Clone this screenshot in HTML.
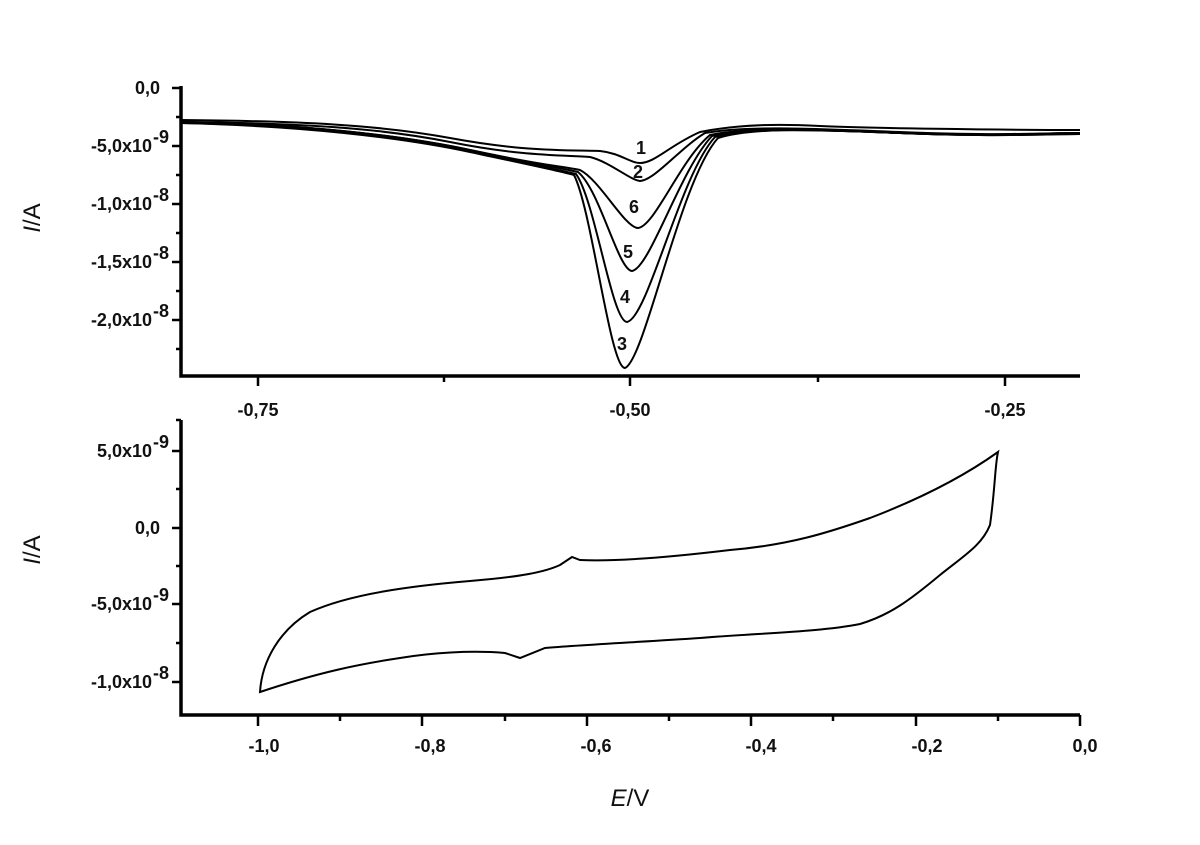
<!DOCTYPE html>
<html><head><style>
body{margin:0;background:#fff;}
svg text{font-family:"Liberation Sans",sans-serif;font-weight:bold;font-size:18px;fill:#111;}
</style></head><body>
<svg width="1200" height="840" viewBox="0 0 1200 840" xmlns="http://www.w3.org/2000/svg">
<g stroke="#000" fill="none">
<path d="M181,86 V376 H1080" stroke-width="3.5"/>
<g stroke-width="2.5">
<path d="M172,88H181M172,146H181M172,204H181M172,262H181M172,320H181"/>
<path d="M176,117H181M176,175H181M176,233H181M176,291H181M176,349H181"/>
<path d="M258,376V386M630,376V386M1005,376V386M444,376V382M818,376V382"/>
</g>
<path d="M181,420 V715 H1080" stroke-width="3.5"/>
<g stroke-width="2.5">
<path d="M172,451H181M172,528H181M172,604H181M172,682H181"/>
<path d="M176,489H181M176,566H181M176,643H181M176,420H181"/>
<path d="M258,715V726M422,715V726M587,715V726M751,715V726M916,715V726M1080,715V726"/>
<path d="M340,715V721M505,715V721M669,715V721M833,715V721M998,715V721"/>
</g>
<g stroke-width="2">
<path d="M181,120 C300,121 380,125 450,138 S560,150 600,151 C620,153 630,163 640,163 C655,163 670,145 700,132 C740,124 780,124 820,126 S1000,130 1080,130"/>
<path d="M181,122 C300,123 380,128 450,142 S560,155 590,157 C610,162 630,180 640,181 C655,180 680,148 705,133 C745,126 800,128 900,132 S1040,133 1080,133"/>
<path d="M181,122 C300,124 400,135 470,150 S560,166 580,170 C600,180 625,228 638,228 C655,226 680,160 710,135 C750,127 800,129 900,133 S1040,133 1080,133"/>
<path d="M181,122 C300,124 400,135 470,150 S560,168 578,172 C600,190 618,270 632,271 C650,268 680,170 712,136 C750,127 800,129 900,133 S1040,133 1080,133"/>
<path d="M181,123 C300,125 400,136 470,151 S560,170 576,174 C595,200 612,322 627,322 C648,318 680,175 715,137 C750,128 800,129 900,133 S1040,134 1080,134"/>
<path d="M181,123 C300,126 400,137 470,152 S560,171 574,175 C592,210 610,368 625,368 C645,360 680,180 718,138 C750,128 800,129 900,133 S1040,134 1080,134"/>
</g>
<path stroke-width="2" d="M260,692 C262,660 280,630 310,612 C350,594 410,586 470,581 C520,577 545,572 560,565 L572,557 L580,560 C620,562 680,556 730,550 C790,545 830,532 870,518 C930,495 970,472 998,452 C995,465 995,490 990,525 C982,545 965,555 940,575 C910,600 890,615 860,624 C820,632 760,633 700,638 C640,642 580,645 545,648 L520,658 L505,653 C470,650 430,653 400,658 C360,664 320,672 260,692 Z"/>
</g>
<g text-anchor="end">
<text x="160" y="94">0,0</text>
<text x="152" y="152">-5,0x10</text><text x="152" y="210">-1,0x10</text><text x="152" y="268">-1,5x10</text><text x="152" y="326">-2,0x10</text>
</g>
<g style="font-size:11px"><text x="153" y="143">-9</text><text x="153" y="201">-8</text><text x="153" y="259">-8</text><text x="153" y="317">-8</text></g>
<g text-anchor="middle">
<text x="258" y="416">-0,75</text><text x="630" y="416">-0,50</text><text x="1005" y="416">-0,25</text>
</g>
<g style="font-size:11px" text-anchor="middle">
<text x="641" y="154">1</text><text x="638" y="178">2</text><text x="634" y="213">6</text><text x="628" y="258">5</text><text x="625" y="303">4</text><text x="622" y="350">3</text>
</g>
<g text-anchor="end">
<text x="152" y="457">5,0x10</text><text x="160" y="534">0,0</text><text x="152" y="610">-5,0x10</text><text x="152" y="688">-1,0x10</text>
</g>
<g style="font-size:11px"><text x="153" y="448">-9</text><text x="153" y="601">-9</text><text x="153" y="679">-8</text></g>
<g text-anchor="middle">
<text x="264" y="752">-1,0</text><text x="430" y="752">-0,8</text><text x="596" y="752">-0,6</text><text x="761" y="752">-0,4</text><text x="927" y="752">-0,2</text><text x="1085" y="752">0,0</text>
</g>
<text x="630" y="806" text-anchor="middle" style="font-weight:normal;font-size:24px"><tspan font-style="italic">E</tspan>/V</text>
<text transform="translate(40,218) rotate(-90)" text-anchor="middle" style="font-weight:normal;font-size:24px"><tspan font-style="italic">I</tspan>/A</text>
<text transform="translate(40,550) rotate(-90)" text-anchor="middle" style="font-weight:normal;font-size:24px"><tspan font-style="italic">I</tspan>/A</text>
</svg>
</body></html>
